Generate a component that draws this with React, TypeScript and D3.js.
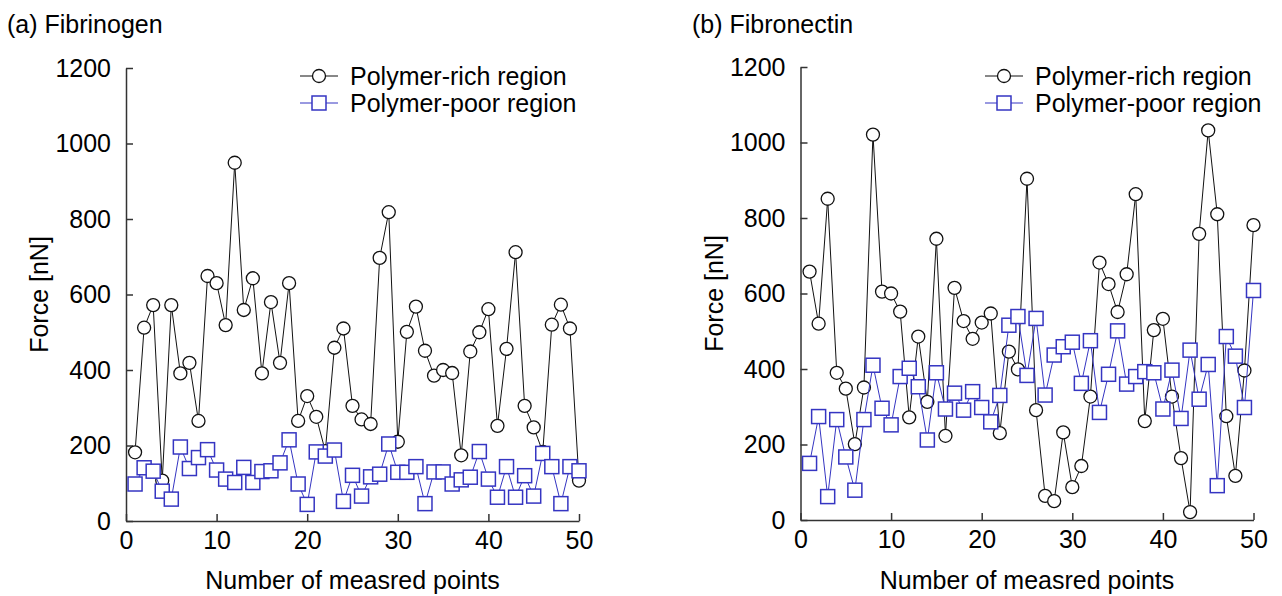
import React, { useEffect, useRef } from 'react';
import * as d3 from 'd3';

const pointIndex = d3.range(1, 51);

const fibrinogenRich = [182, 512, 572, 107, 572, 391, 419, 265, 649, 630, 519, 949, 559, 643, 391, 580, 419, 630, 265, 331,
  276, 185, 459, 510, 305, 269, 257, 697, 818, 210, 501, 568, 451, 385, 400, 392, 174, 449, 500, 561,
  252, 456, 712, 305, 248, 183, 520, 573, 510, 107];
const fibrinogenPoor = [98, 141, 132, 79, 58, 196, 139, 168, 189, 135, 111, 102, 142, 102, 131, 133, 154, 215, 98, 44,
  183, 172, 188, 52, 121, 66, 117, 124, 204, 129, 129, 144, 46, 130, 130, 98, 109, 116, 184, 111,
  63, 144, 63, 120, 66, 179, 144, 46, 144, 133];

const fibronectinRich = [658, 520, 851, 390, 348, 201, 351, 1021, 605, 600, 552, 272, 486, 313, 745, 223, 615, 527, 480, 523,
  547, 230, 446, 399, 904, 291, 64, 50, 232, 87, 143, 327, 682, 625, 551, 651, 863, 262, 503, 533,
  327, 164, 21, 758, 1032, 810, 275, 117, 396, 781];
const fibronectinPoor = [150, 274, 62, 266, 167, 79, 266, 410, 296, 252, 380, 402, 353, 212, 390, 294, 336, 291, 340, 298,
  260, 330, 516, 539, 383, 534, 331, 437, 459, 471, 362, 475, 285, 386, 501, 360, 380, 393, 390, 294,
  397, 269, 450, 320, 412, 91, 486, 434, 298, 608];

const xTicks = [0, 10, 20, 30, 40, 50];
const yTicks = [0, 200, 400, 600, 800, 1000, 1200];
const seriesNames = ['Polymer-rich region', 'Polymer-poor region'];
const panelTitles = ['(a) Fibrinogen', '(b) Fibronectin'];

const BLUE = '#3535c2';
const FONT = '"Liberation Sans", Arial, sans-serif';
const FS = 25;

export default function App() {
  const ref = useRef<SVGSVGElement>(null);

  useEffect(() => {
    const svg = d3.select(ref.current);
    svg.selectAll('*').remove();

    const panels = [
      { left: 126, right: 579, top: 68, bottom: 521, title: panelTitles[0], rich: fibrinogenRich, poor: fibrinogenPoor, titleX: 7, legendX: 300 },
      { left: 800.5, right: 1253.5, top: 67, bottom: 520, title: panelTitles[1], rich: fibronectinRich, poor: fibronectinPoor, titleX: 692, legendX: 985 },
    ];

    panels.forEach(p => {
      const g = svg.append('g');
      const x = d3.scaleLinear().domain([0, 50]).range([p.left, p.right]);
      const y = d3.scaleLinear().domain([0, 1200]).range([p.bottom, p.top]);

      g.append('text')
        .attr('x', p.titleX).attr('y', 33)
        .attr('font-size', FS).attr('font-family', FONT)
        .text(p.title);

      // axes (ticks point inward)
      const xAxis = g.append('g').attr('transform', `translate(0,${p.bottom})`)
        .call(d3.axisBottom(x).tickValues(xTicks).tickFormat(d3.format('d')).tickSizeInner(-7).tickSizeOuter(0).tickPadding(10));
      const yAxis = g.append('g').attr('transform', `translate(${p.left},0)`)
        .call(d3.axisLeft(y).tickValues(yTicks).tickFormat(d3.format('d')).tickSizeInner(-7).tickSizeOuter(0).tickPadding(15));
      [xAxis, yAxis].forEach(a => {
        a.select('.domain').attr('stroke', '#333').attr('stroke-width', 1.5);
        a.selectAll('.tick line').attr('stroke', '#333').attr('stroke-width', 1.5);
        a.selectAll('.tick text').attr('font-size', FS).attr('font-family', FONT).attr('fill', '#000');
      });

      g.append('text')
        .attr('x', (p.left + p.right) / 2).attr('y', 589)
        .attr('text-anchor', 'middle')
        .attr('font-size', FS).attr('font-family', FONT)
        .text('Number of measred points');
      g.append('text')
        .attr('transform', `translate(${p.left - 78},${(p.top + p.bottom) / 2}) rotate(-90)`)
        .attr('text-anchor', 'middle')
        .attr('font-size', FS).attr('font-family', FONT)
        .text('Force [nN]');

      const line = d3.line<number>().x((d, i) => x(pointIndex[i])).y(d => y(d));

      g.append('path').datum(p.rich)
        .attr('d', line).attr('fill', 'none').attr('stroke', '#111').attr('stroke-width', 1);
      g.append('g').selectAll('circle').data(p.rich).enter().append('circle')
        .attr('cx', (d, i) => x(pointIndex[i])).attr('cy', d => y(d)).attr('r', 6.5)
        .attr('fill', '#fff').attr('stroke', '#111').attr('stroke-width', 1.3);

      g.append('path').datum(p.poor)
        .attr('d', line).attr('fill', 'none').attr('stroke', BLUE).attr('stroke-width', 1);
      g.append('g').selectAll('rect').data(p.poor).enter().append('rect')
        .attr('x', (d, i) => x(pointIndex[i]) - 7).attr('y', d => y(d) - 7)
        .attr('width', 14).attr('height', 14)
        .attr('fill', '#fff').attr('stroke', BLUE).attr('stroke-width', 1.5);

      // legend
      const legend = g.append('g');
      seriesNames.forEach((name, k) => {
        const ly = 76 + k * 27;
        const color = k === 0 ? '#111' : BLUE;
        legend.append('line')
          .attr('x1', p.legendX).attr('x2', p.legendX + 38).attr('y1', ly).attr('y2', ly)
          .attr('stroke', color).attr('stroke-width', 1);
        if (k === 0) {
          legend.append('circle').attr('cx', p.legendX + 19).attr('cy', ly).attr('r', 6.5)
            .attr('fill', '#fff').attr('stroke', color).attr('stroke-width', 1.3);
        } else {
          legend.append('rect').attr('x', p.legendX + 12).attr('y', ly - 7).attr('width', 14).attr('height', 14)
            .attr('fill', '#fff').attr('stroke', color).attr('stroke-width', 1.5);
        }
        legend.append('text')
          .attr('x', p.legendX + 50).attr('y', ly).attr('dy', '0.35em')
          .attr('font-size', FS).attr('font-family', FONT)
          .text(name);
      });
    });
  }, []);

  return (
    <svg ref={ref} width={1282} height={596}
      style={{ position: 'absolute', left: 0, top: 0, background: '#fff' }} />
  );
}
